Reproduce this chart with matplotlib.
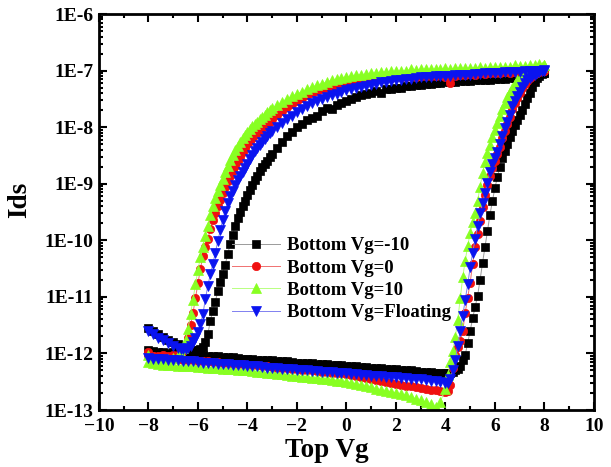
import numpy as np
import matplotlib
matplotlib.use("Agg")
import matplotlib.pyplot as plt
from matplotlib.ticker import LogLocator, NullFormatter, MultipleLocator

plt.rcParams['font.family'] = ['Liberation Serif', 'DejaVu Serif']
plt.rcParams['font.weight'] = 'bold'

# ---- sweep voltages (Top Vg) ----
FWD_V = [-8.0, -7.8, -7.6, -7.4, -7.2, -7.0, -6.8, -6.6, -6.4, -6.2,
         -6.0, -5.8, -5.6, -5.4, -5.2, -5.0, -4.8, -4.6, -4.4, -4.2,
         -4.0, -3.8, -3.6, -3.4, -3.2, -3.0, -2.8, -2.6, -2.4, -2.2,
         -2.0, -1.8, -1.6, -1.4, -1.2, -1.0, -0.8, -0.6, -0.4, -0.2,
         0.0, 0.2, 0.4, 0.6, 0.8, 1.0, 1.2, 1.4, 1.6, 1.8,
         2.0, 2.2, 2.4, 2.6, 2.8, 3.0, 3.2, 3.4, 3.6, 3.8,
         4.0,
         4.1, 4.2, 4.3, 4.4, 4.5, 4.6, 4.7, 4.8, 4.9,
         5.0, 5.1, 5.2, 5.3, 5.4, 5.5, 5.6, 5.7, 5.8, 5.9,
         6.0, 6.1, 6.2, 6.3, 6.4, 6.5, 6.6, 6.7, 6.8, 6.9,
         7.0, 7.1, 7.2, 7.3, 7.4, 7.5, 7.6, 7.7, 7.8, 7.9,
         8.0]

REV_V = [8.0, 7.8, 7.6, 7.4, 7.2, 7.0, 6.8, 6.6, 6.4, 6.2,
         6.0, 5.8, 5.6, 5.4, 5.2, 5.0, 4.8, 4.6, 4.4, 4.2,
         4.0, 3.8, 3.6, 3.4, 3.2, 3.0, 2.8, 2.6, 2.4, 2.2,
         2.0, 1.8, 1.6, 1.4, 1.2, 1.0, 0.8, 0.6, 0.4, 0.2,
         0.0, -0.2, -0.4, -0.6, -0.8, -1.0, -1.2, -1.4, -1.6, -1.8,
         -2.0, -2.2, -2.4, -2.6, -2.8, -3.0,
         -3.1, -3.2, -3.3, -3.4, -3.5, -3.6, -3.7, -3.8, -3.9,
         -4.0, -4.1, -4.2, -4.3, -4.4, -4.5, -4.6, -4.7, -4.8, -4.9,
         -5.0, -5.1, -5.2, -5.3, -5.4, -5.5, -5.6, -5.7, -5.8, -5.9,
         -6.0, -6.1, -6.2, -6.3, -6.4, -6.5, -6.6, -6.7, -6.8,
         -7.0, -7.2, -7.4, -7.6, -7.8, -8.0]

# ---- log10(Ids) values ----
# Bottom Vg = -10
neg10_fwd = [-11.94, -11.96, -11.97, -11.97, -11.99, -11.98, -12.00, -12.01, -12.00, -12.02,
             -12.03, -12.03, -12.04, -12.05, -12.05, -12.06, -12.07, -12.07, -12.08, -12.09,
             -12.09, -12.10, -12.11, -12.11, -12.12, -12.12, -12.13, -12.14, -12.14, -12.15,
             -12.16, -12.16, -12.17, -12.17, -12.18, -12.19, -12.19, -12.20, -12.21, -12.21,
             -12.22, -12.22, -12.23, -12.24, -12.24, -12.25, -12.26, -12.26, -12.27, -12.28,
             -12.28, -12.29, -12.30, -12.30, -12.31, -12.32, -12.32, -12.33, -12.34, -12.34,
             -12.35,
             -12.35, -12.34, -12.32, -12.30, -12.27, -12.22, -12.12, -12.02, -11.82,
             -11.60, -11.38, -11.18, -10.98, -10.70, -10.40, -10.12, -9.84, -9.55, -9.30,
             -9.08, -8.88, -8.70, -8.55, -8.42, -8.29, -8.17, -8.06, -7.96, -7.87,
             -7.79, -7.69, -7.59, -7.49, -7.39, -7.29, -7.20, -7.13, -7.09, -7.06,
             -7.04]
neg10_rev = [-7.04, -7.06, -7.08, -7.10, -7.11, -7.12, -7.13, -7.13, -7.14, -7.15,
             -7.15, -7.16, -7.16, -7.17, -7.17, -7.18, -7.18, -7.19, -7.20, -7.20,
             -7.21, -7.22, -7.22, -7.24, -7.23, -7.26, -7.25, -7.28, -7.27, -7.30,
             -7.31, -7.33, -7.32, -7.40, -7.36, -7.39, -7.42, -7.44, -7.47, -7.50,
             -7.53, -7.57, -7.60, -7.68, -7.66, -7.72, -7.80, -7.84, -7.88, -7.95,
             -8.00, -8.08, -8.16, -8.26, -8.36, -8.47,
             -8.53, -8.59, -8.65, -8.71, -8.78, -8.86, -8.94, -9.02, -9.11,
             -9.20, -9.30, -9.40, -9.50, -9.61, -9.75, -9.91, -10.07, -10.25, -10.43,
             -10.59, -10.74, -10.90, -11.09, -11.25, -11.42, -11.66, -11.80, -11.88, -11.92,
             -11.94, -11.95, -11.95, -11.94, -11.93, -11.91, -11.89, -11.87, -11.84,
             -11.80, -11.76, -11.71, -11.66, -11.61, -11.55]

# Bottom Vg = 0
zero_fwd = [-11.97, -12.04, -12.07, -12.08, -12.09, -12.09, -12.10, -12.11, -12.11, -12.12,
            -12.13, -12.13, -12.14, -12.15, -12.15, -12.16, -12.17, -12.18, -12.18, -12.19,
            -12.20, -12.21, -12.21, -12.22, -12.23, -12.24, -12.25, -12.25, -12.26, -12.27,
            -12.28, -12.29, -12.30, -12.30, -12.31, -12.32, -12.33, -12.34, -12.35, -12.35,
            -12.36, -12.38, -12.40, -12.41, -12.43, -12.45, -12.47, -12.49, -12.50, -12.52,
            -12.54, -12.55, -12.57, -12.58, -12.60, -12.61, -12.62, -12.64, -12.65, -12.67,
            -12.68,
            -12.66, -12.55, -12.25, -12.02, -11.88, -11.78, -11.60, -11.28, -11.02,
            -10.75, -10.42, -10.12, -9.88, -9.65, -9.42, -9.20, -9.02, -8.86, -8.72,
            -8.60, -8.48, -8.35, -8.20, -8.07, -7.95, -7.82, -7.68, -7.57, -7.48,
            -7.39, -7.31, -7.24, -7.18, -7.13, -7.09, -7.06, -7.04, -7.02, -7.01,
            -7.00]
zero_rev = [-7.00, -7.01, -7.00, -7.02, -7.02, -7.03, -7.02, -7.04, -7.03, -7.05,
            -7.04, -7.05, -7.06, -7.05, -7.07, -7.06, -7.08, -7.07, -7.09, -7.22,
            -7.12, -7.08, -7.09, -7.09, -7.10, -7.09, -7.11, -7.10, -7.12, -7.11,
            -7.12, -7.13, -7.13, -7.14, -7.15, -7.16, -7.17, -7.18, -7.19, -7.20,
            -7.22, -7.24, -7.26, -7.28, -7.30, -7.33, -7.36, -7.40, -7.44, -7.49,
            -7.54, -7.59, -7.65, -7.71, -7.78, -7.86,
            -7.90, -7.94, -7.98, -8.02, -8.06, -8.10, -8.14, -8.19, -8.24,
            -8.30, -8.37, -8.44, -8.52, -8.60, -8.69, -8.78, -8.87, -8.96, -9.06,
            -9.16, -9.28, -9.40, -9.52, -9.64, -9.80, -9.98, -10.12, -10.28, -10.50,
            -10.76, -11.02, -11.28, -11.50, -11.72, -11.88, -11.96, -12.00, -12.02,
            -12.03, -12.04, -12.03, -12.05, -12.04, -12.02]

# Bottom Vg = 10
pos10_fwd = [-12.02, -12.17, -12.19, -12.20, -12.21, -12.21, -12.22, -12.22, -12.23, -12.23,
             -12.24, -12.24, -12.25, -12.26, -12.26, -12.27, -12.28, -12.28, -12.29, -12.30,
             -12.30, -12.31, -12.32, -12.33, -12.34, -12.35, -12.36, -12.37, -12.38, -12.39,
             -12.40, -12.41, -12.42, -12.43, -12.44, -12.45, -12.46, -12.47, -12.48, -12.49,
             -12.50, -12.52, -12.54, -12.56, -12.58, -12.60, -12.62, -12.64, -12.66, -12.68,
             -12.70, -12.72, -12.74, -12.77, -12.80, -12.83, -12.86, -12.90, -12.95, -12.85,
             -12.62,
             -12.38, -12.15, -11.95, -11.71, -11.40, -11.02, -10.65, -10.36, -10.10,
             -9.87, -9.68, -9.52, -9.30, -9.05, -8.81, -8.62, -8.46, -8.32, -8.18,
             -8.05, -7.93, -7.80, -7.68, -7.57, -7.47, -7.38, -7.30, -7.23, -7.17,
             -7.13, -7.10, -7.07, -7.05, -7.03, -7.01, -6.99, -6.97, -6.95, -6.93,
             -6.91]
pos10_rev = [-6.90, -6.89, -6.91, -6.91, -6.92, -6.92, -6.91, -6.93, -6.93, -6.94,
             -6.93, -6.94, -6.95, -6.94, -6.95, -6.95, -6.96, -6.95, -6.96, -6.97,
             -6.96, -6.97, -6.97, -6.98, -6.97, -6.98, -6.99, -6.98, -7.00, -7.00,
             -7.01, -7.01, -7.02, -7.03, -7.04, -7.05, -7.06, -7.07, -7.08, -7.10,
             -7.11, -7.13, -7.15, -7.17, -7.20, -7.23, -7.26, -7.29, -7.33, -7.37,
             -7.41, -7.45, -7.50, -7.55, -7.61, -7.67,
             -7.70, -7.74, -7.78, -7.82, -7.86, -7.90, -7.94, -7.98, -8.03,
             -8.08, -8.14, -8.20, -8.27, -8.34, -8.41, -8.49, -8.58, -8.68, -8.80,
             -8.92, -9.02, -9.12, -9.25, -9.40, -9.56, -9.74, -9.92, -10.12, -10.30,
             -10.52, -10.78, -11.05, -11.30, -11.56, -11.76, -11.90, -12.00, -12.05,
             -12.08, -12.10, -12.11, -12.12, -12.14, -12.15]

# Bottom Vg = Floating
flt_fwd = [-12.08, -12.09, -12.10, -12.10, -12.11, -12.12, -12.12, -12.13, -12.14, -12.14,
           -12.15, -12.16, -12.16, -12.17, -12.18, -12.18, -12.19, -12.20, -12.20, -12.21,
           -12.22, -12.22, -12.23, -12.24, -12.25, -12.25, -12.26, -12.27, -12.27, -12.28,
           -12.29, -12.29, -12.30, -12.31, -12.31, -12.32, -12.33, -12.33, -12.34, -12.35,
           -12.35, -12.36, -12.37, -12.38, -12.38, -12.39, -12.40, -12.40, -12.41, -12.42,
           -12.42, -12.43, -12.44, -12.45, -12.46, -12.46, -12.47, -12.48, -12.49, -12.50,
           -12.52,
           -12.52, -12.45, -12.30, -12.12, -11.86, -11.60, -11.33, -11.06, -10.78,
           -10.48, -10.22, -9.98, -9.74, -9.52, -9.34, -9.17, -8.98, -8.79, -8.66,
           -8.55, -8.44, -8.30, -8.15, -8.02, -7.91, -7.78, -7.63, -7.53, -7.45,
           -7.37, -7.29, -7.22, -7.17, -7.13, -7.10, -7.07, -7.05, -7.03, -7.01,
           -7.00]
flt_rev = [-6.99, -7.00, -7.00, -7.01, -7.01, -7.02, -7.02, -7.03, -7.03, -7.04,
           -7.04, -7.05, -7.05, -7.06, -7.06, -7.07, -7.07, -7.08, -7.08, -7.09,
           -7.09, -7.10, -7.10, -7.11, -7.12, -7.12, -7.13, -7.14, -7.15, -7.16,
           -7.17, -7.18, -7.20, -7.21, -7.23, -7.25, -7.27, -7.29, -7.31, -7.33,
           -7.35, -7.38, -7.41, -7.44, -7.47, -7.50, -7.54, -7.58, -7.63, -7.68,
           -7.74, -7.80, -7.86, -7.93, -8.00, -8.07,
           -8.11, -8.16, -8.21, -8.26, -8.31, -8.37, -8.43, -8.50, -8.57,
           -8.65, -8.72, -8.79, -8.86, -8.94, -9.02, -9.12, -9.22, -9.34, -9.48,
           -9.64, -9.82, -10.02, -10.22, -10.42, -10.60, -10.80, -11.04, -11.30, -11.48,
           -11.62, -11.72, -11.80, -11.86, -11.90, -11.92, -11.93, -11.92, -11.90,
           -11.86, -11.82, -11.77, -11.72, -11.66, -11.60]

LABELS = ['Bottom Vg=-10', 'Bottom Vg=0', 'Bottom Vg=10', 'Bottom Vg=Floating']
SERIES = [(neg10_fwd, neg10_rev), (zero_fwd, zero_rev),
          (pos10_fwd, pos10_rev), (flt_fwd, flt_rev)]
MARKER_COLORS = ['#000000', '#f01010', '#88ff22', '#0a14f0']
LINE_COLORS = ['#9a9a9a', '#f07070', '#b8ff80', '#8080f0']
MARKERS = ['s', 'o', '^', 'v']
MSIZES = [5.5, 6.0, 6.5, 6.5]

Y_TICKS = [1e-13, 1e-12, 1e-11, 1e-10, 1e-9, 1e-8, 1e-7, 1e-6]
Y_TICKLABELS = ['1E-13', '1E-12', '1E-11', '1E-10', '1E-9', '1E-8', '1E-7', '1E-6']
X_TICKS = [-10, -8, -6, -4, -2, 0, 2, 4, 6, 8, 10]

fig = plt.figure(figsize=(6.11, 4.67), dpi=100)
ax = fig.add_axes([0.162, 0.122, 0.810, 0.848])

for (fw, rv), lab, mc, lc, mk, ms in zip(SERIES, LABELS, MARKER_COLORS,
                                          LINE_COLORS, MARKERS, MSIZES):
    xv = np.array(FWD_V + REV_V)
    yv = 10.0 ** np.array(fw + rv)
    ax.plot(xv, yv, color=lc, lw=0.7, marker=mk, ms=ms, mfc=mc, mec=mc,
            mew=0.5, label=lab)

ax.set_yscale('log')
ax.set_ylim(1e-13, 1e-6)
ax.set_xlim(-10, 10)
ax.set_yticks(Y_TICKS)
ax.set_yticklabels(Y_TICKLABELS)
ax.yaxis.set_minor_locator(LogLocator(base=10, subs=np.arange(2, 10), numticks=20))
ax.yaxis.set_minor_formatter(NullFormatter())
ax.set_xticks(X_TICKS)
ax.xaxis.set_minor_locator(MultipleLocator(1))

ax.tick_params(which='both', direction='in', top=True, right=True, width=1.5)
ax.tick_params(which='major', length=6, labelsize=14)
ax.tick_params(axis='x', which='major', pad=6)
ax.tick_params(axis='y', which='major', pad=4)
ax.tick_params(which='minor', length=3)
for lbl in ax.get_xticklabels() + ax.get_yticklabels():
    lbl.set_fontweight('bold')
for sp in ax.spines.values():
    sp.set_linewidth(2.0)

ax.set_xlabel('Top Vg', fontsize=19.5, fontweight='bold')
ax.set_ylabel('Ids', fontsize=19.5, fontweight='bold')
ax.xaxis.set_label_coords(0.46, -0.07)
ax.yaxis.set_label_coords(-0.135, 0.53)

leg = ax.legend(loc='upper left', bbox_to_anchor=(0.243, 0.47), frameon=False,
                fontsize=13.5, handlelength=2.56, handletextpad=0.37,
                labelspacing=0.28, borderpad=0.2)
for t in leg.get_texts():
    t.set_fontweight('bold')

fig.savefig('out.png', dpi=100)
